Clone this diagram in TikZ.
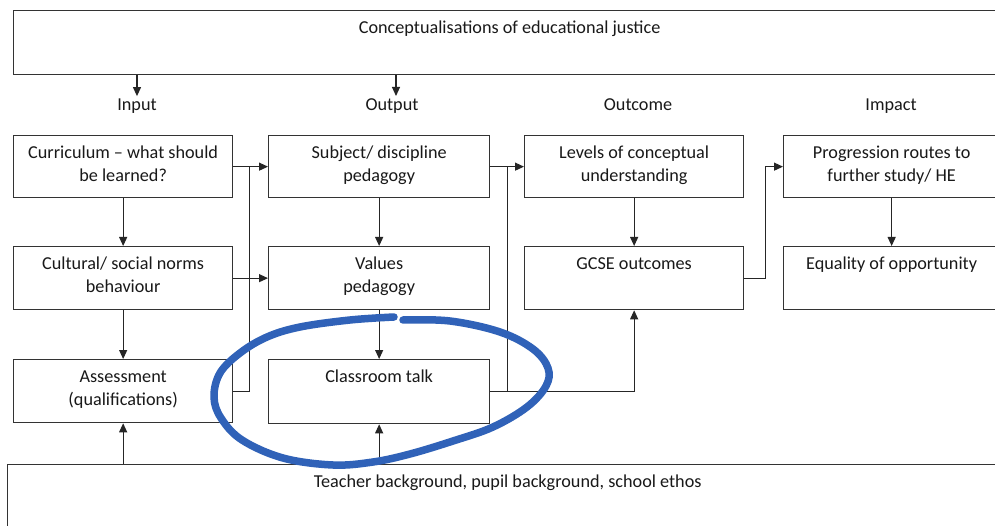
\documentclass[tikz,border=0pt]{standalone}
\usepackage{fontspec}
\setmainfont{Carlito}
\usetikzlibrary{arrows.meta}
\definecolor{penblue}{RGB}{48,98,184}
\definecolor{txt}{RGB}{25,25,25}
\newcommand{\bxt}[3]{\parbox[t][#2pt][t]{#1pt}{\centering\rule{0pt}{23pt}#3}}
\begin{document}
\fontsize{18.2}{23}\selectfont
\begin{tikzpicture}[x=1pt,y=-1pt,
  box/.style={draw=black!80, line width=1.3pt, inner sep=0pt, anchor=north west, text=txt},
  conn/.style={line width=1.1pt, draw=black!85},
  arr/.style={conn, -{Triangle[length=9pt,width=8pt]}},
  lbl/.style={inner sep=0pt, anchor=base, text=txt},
  bluestroke/.style={draw=penblue, line width=7.5pt, line cap=round, line join=round}]
\useasboundingbox (0,0) rectangle (995,526);
\clip (0,0) rectangle (995,526);
\fill[white] (0,0) rectangle (995,526);
% top and bottom boxes
\node[box] (top) at (13,10) {\bxt{992}{64}{Conceptualisations of educational justice}};
\node[box] (bot) at (7,464) {\bxt{1000}{70}{\rule{0pt}{1pt}Teacher background, pupil background, school ethos}};
% column labels
\node[lbl] (lin) at (137,111) {Input};
\node[lbl] (lout) at (392,111) {Output};
\node[lbl] (loc) at (638,111) {Outcome};
\node[lbl] (lim) at (891,111) {Impact};
% column 1
\node[box] (cur) at (13,135) {\bxt{219}{62}{Curriculum -- what should\\be learned?}};
\node[box] (cul) at (13,246) {\bxt{219}{63}{Cultural/ social norms\\behaviour}};
\node[box] (ass) at (13,359) {\bxt{219}{63}{Assessment\\(qualifications)}};
% column 2
\node[box] (sub) at (268,135) {\bxt{221}{62}{Subject/ discipline\\pedagogy}};
\node[box] (val) at (268,246) {\bxt{221}{63}{Values\\pedagogy}};
\node[box] (ct) at (268,359) {\bxt{221}{64}{Classroom talk}};
% column 3
\node[box] (lev) at (524,135) {\bxt{219}{62}{Levels of conceptual\\understanding}};
\node[box] (gcse) at (524,246) {\bxt{219}{63}{GCSE outcomes}};
% column 4
\node[box] (prog) at (783,135) {\bxt{216}{62}{Progression routes to\\further study/ HE}};
\node[box] (eq) at (783,246) {\bxt{216}{63}{Equality of opportunity}};
% arrows from the top box
\draw[arr] (top.south -| lin.center) -- ([yshift=3pt]lin.north);
\draw[arr] (top.south -| 396,0) -- ([yshift=3pt]lout.north -| 396,0);
% vertical arrows in columns
\draw[arr] (cur.south) -- (cul.north);
\draw[arr] (cul.south) -- (ass.north);
\draw[arr] (sub.south) -- (val.north);
\draw[arr] (val.south) -- (ct.north);
\draw[arr] (lev.south) -- (gcse.north);
\draw[arr] (prog.south) -- (eq.north);
% horizontal connectors
\draw[arr] (cur.east) -- (sub.west);
\draw[arr] (cul.east) -- (val.west);
\draw[conn] (ass.east) -- ++(16,0) coordinate (j1) -- (j1 |- cur.east);
\draw[arr] (sub.east) -- (lev.west);
\draw[conn] (ct.east) -- ++(17,0) coordinate (j2) -- (j2 |- sub.east);
\draw[arr] (ct.east) -| (gcse.south);
\draw[arr] (gcse.east) -- ++(21,0) |- (prog.west);
% arrows from the bottom box
\draw[arr] (bot.north -| ass.south) -- (ass.south);
\draw[arr] (bot.north -| ct.south) -- (ct.south);
% hand-drawn blue loop
\draw[bluestroke] plot[smooth, tension=0.6] coordinates {
 (403,320) (450,321) (500,332) (533,349) (548,368) (546,386) (527,407)
 (493,427) (453,441) (410,454) (373,462) (333,465) (283,458) (242,440)
 (221,418) (214,397) (220,373) (240,353) (267,337) (300,327) (350,320) (394,317)};
\end{tikzpicture}
\end{document}
